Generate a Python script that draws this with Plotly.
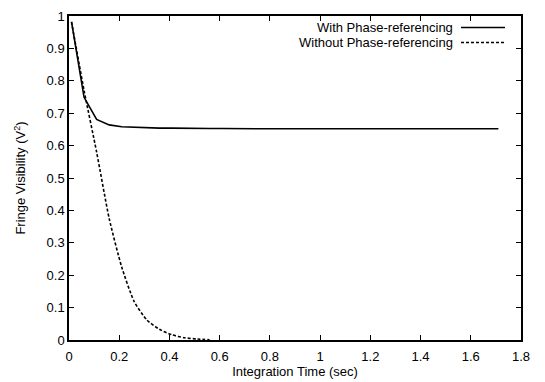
import plotly.graph_objects as go

FONT = "Liberation Sans, Arial, sans-serif"

# integration time (sec), sampled every 0.05 s
t_with = [0.01 + 0.05 * i for i in range(35)]
v_with = [0.982, 0.749, 0.681, 0.664, 0.658, 0.656, 0.655, 0.654, 0.654, 0.653,
          0.653, 0.653, 0.653, 0.652, 0.652, 0.652, 0.652, 0.652, 0.652, 0.652,
          0.652, 0.652, 0.652, 0.652, 0.652, 0.652, 0.652, 0.652, 0.652, 0.652,
          0.652, 0.652, 0.652, 0.652, 0.652]

t_without = [0.01, 0.06, 0.11, 0.16, 0.21, 0.26, 0.31, 0.36, 0.41, 0.46, 0.51, 0.56]
v_without = [0.982, 0.77, 0.58, 0.375, 0.225, 0.118, 0.062, 0.033, 0.016, 0.007, 0.003, 0.001]

fig = go.Figure()

# with phase-referencing
fig.add_trace(
    go.Scatter(
        x=t_with,
        y=v_with,
        mode="lines",
        name="With Phase-referencing",
        line=dict(color="black", width=1.6),
    )
)

# without phase-referencing
fig.add_trace(
    go.Scatter(
        x=t_without,
        y=v_without,
        mode="lines",
        name="Without Phase-referencing",
        line=dict(color="black", width=1.6, dash="3px,2px", shape="spline", smoothing=0.6),
    )
)

# gnuplot style key: text right-aligned, sample line on the right
key = [("With Phase-referencing", "solid", 27.5), ("Without Phase-referencing", "3px,2px", 42.5)]
for label, dash, ypx in key:
    yp = 1 - (ypx - 16) / 324
    fig.add_annotation(
        x=(455 - 69) / 452, y=yp, xref="paper", yref="paper",
        text=label, showarrow=False, xanchor="right", yanchor="middle",
        font=dict(family=FONT, size=13, color="black"),
    )
    fig.add_shape(
        type="line", xref="paper", yref="paper",
        x0=(461 - 69) / 452, x1=(505 - 69) / 452, y0=yp, y1=yp,
        line=dict(color="black", width=1.6, dash=dash),
    )

axis_common = dict(
    showgrid=False,
    zeroline=False,
    showline=True,
    linecolor="black",
    linewidth=1.5,
    mirror="ticks",
    ticks="inside",
    ticklen=5,
    tickwidth=1.2,
    tickcolor="black",
    automargin=False,
    tickfont=dict(family=FONT, size=13, color="black"),
)

fig.update_xaxes(
    range=[0, 1.8], dtick=0.2, ticklabelstandoff=4,
    title=dict(text="Integration Time (sec)", font=dict(family=FONT, size=13, color="black"), standoff=4),
    **axis_common,
)
fig.update_yaxes(
    range=[0, 1], dtick=0.1,
    title=dict(text="Fringe Visibility (V<sup>2</sup>)", font=dict(family=FONT, size=13, color="black"), standoff=18),
    **axis_common,
)

# page body keeps its default 8px margin, so the figure is 8px smaller
fig.update_layout(
    width=537,
    height=374,
    showlegend=False,
    paper_bgcolor="white",
    plot_bgcolor="white",
    margin=dict(l=61, r=24, t=8, b=42),
    font=dict(family=FONT, size=13, color="black"),
)

fig.write_html("out.html")
